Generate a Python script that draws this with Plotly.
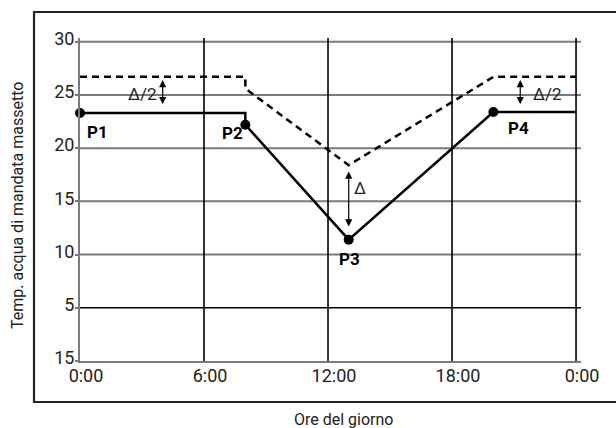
import plotly.graph_objects as go

# ---- data ----
hours_solid = [0, 8, 8, 13, 20, 24]
temp_solid = [23.3, 23.3, 22.2, 11.4, 23.4, 23.4]

hours_dashed = [0, 8, 8, 13, 20, 24]
temp_dashed = [26.7, 26.7, 25.6, 18.4, 26.7, 26.7]

point_hours = [0, 8, 13, 20]
point_temps = [23.3, 22.2, 11.4, 23.4]
point_names = ["P1", "P2", "P3", "P4"]

x_tickvals = [0, 6, 12, 18, 24]
x_ticktext = ["0:00", "6:00", "12:00", "18:00", "0:00"]
y_tickvals = [0, 5, 10, 15, 20, 25, 30]
y_ticktext = ["15", "5", "10", "15", "20", "25", "30"]

FONT = "Liberation Sans Narrow, Roboto, sans-serif"
GRAY = "#7a7a7a"
TXT = "#222222"

fig = go.Figure()

fig.add_trace(go.Scatter(x=hours_dashed, y=temp_dashed, mode="lines",
                         line=dict(color="black", width=2.5, dash="7px,5px"),
                         cliponaxis=False, hoverinfo="skip", showlegend=False))
fig.add_trace(go.Scatter(x=hours_solid, y=temp_solid, mode="lines",
                         line=dict(color="black", width=2.5),
                         cliponaxis=False, hoverinfo="skip", showlegend=False))
fig.add_trace(go.Scatter(x=point_hours, y=point_temps, mode="markers",
                         marker=dict(color="black", size=10),
                         cliponaxis=False, hoverinfo="skip", showlegend=False))

shapes = []
for v in y_tickvals[1:]:
    shapes.append(dict(type="line", xref="x", yref="y", x0=0, x1=24.24, y0=v, y1=v,
                       line=dict(color="black" if v == 5 else GRAY, width=1.6 if v == 5 else 2),
                       layer="below"))
for v in x_tickvals[1:]:
    shapes.append(dict(type="line", xref="x", yref="y", x0=v, x1=v, y0=0, y1=30.35,
                       line=dict(color="black", width=1.6), layer="below"))
shapes.append(dict(type="rect", xref="paper", yref="paper", x0=-0.0918, x1=1.08,
                   y0=-0.127, y1=1.0805, line=dict(color="#222222", width=2.2),
                   layer="below"))
fig.update_layout(shapes=shapes)

ann = []
label_pos = {"P1": (0.87, 21.5), "P2": (7.4, 21.4), "P3": (13.06, 9.6), "P4": (21.2, 21.9)}
for n in point_names:
    x, y = label_pos[n]
    ann.append(dict(x=x, y=y, xref="x", yref="y", text="<b>%s</b>" % n, showarrow=False,
                    xanchor="center", yanchor="middle",
                    font=dict(family=FONT, size=17, color="black")))
for (x, y0, y1) in [(4.0, 24.0, 26.4), (21.3, 24.0, 26.4), (13.0, 12.5, 17.8)]:
    ann.append(dict(x=x, y=y1, ax=x, ay=y0, xref="x", yref="y", axref="x", ayref="y",
                    text="", showarrow=True, arrowhead=2, arrowsize=1.2, arrowwidth=1.2,
                    arrowside="end+start", arrowcolor="black", standoff=0, startstandoff=0))
for (x, y, t) in [(3.0, 25.1, "Δ/2"), (22.6, 25.1, "Δ/2"), (13.55, 16.3, "Δ")]:
    ann.append(dict(x=x, y=y, xref="x", yref="y", text=t, showarrow=False,
                    xanchor="center", yanchor="middle",
                    font=dict(family=FONT, size=17, color=TXT)))

pw, ph = 616 - 80 - 35, 428 - 38 - 67
ann.append(dict(x=(343 - 80) / pw, y=(361 - 420) / ph, xref="paper", yref="paper",
                text="Ore del giorno", showarrow=False, xanchor="center", yanchor="middle",
                font=dict(family=FONT, size=16, color=TXT)))
ann.append(dict(x=(17 - 80) / pw, y=(361 - 206) / ph, xref="paper", yref="paper",
                text="Temp. acqua di mandata massetto", textangle=-90, showarrow=False,
                xanchor="center", yanchor="middle",
                font=dict(family=FONT, size=16, color=TXT)))
fig.update_layout(annotations=ann)

fig.update_layout(
    width=616, height=428,
    margin=dict(l=80, r=35, t=38, b=67),
    paper_bgcolor="white", plot_bgcolor="white",
    font=dict(family=FONT, color=TXT),
    xaxis=dict(range=[0, 24.24], tickvals=x_tickvals, ticktext=x_ticktext,
               showgrid=False, zeroline=False, showline=True, linecolor=GRAY, linewidth=2,
               ticks="", tickfont=dict(family=FONT, size=18, color=TXT),
               ticklabelshift=6, ticklabelstandoff=-3, fixedrange=True),
    yaxis=dict(range=[0, 30.35], tickvals=y_tickvals, ticktext=y_ticktext,
               showgrid=False, zeroline=False, showline=True, linecolor=GRAY, linewidth=2,
               ticks="outside", ticklen=3, tickcolor=GRAY, tickwidth=1.5,
               ticklabelstandoff=-3, ticklabelshift=-3,
               tickfont=dict(family=FONT, size=18, color=TXT), fixedrange=True),
)

fig.write_html("out.html", post_script="document.body.style.margin='0';",
               config={"displayModeBar": False})
